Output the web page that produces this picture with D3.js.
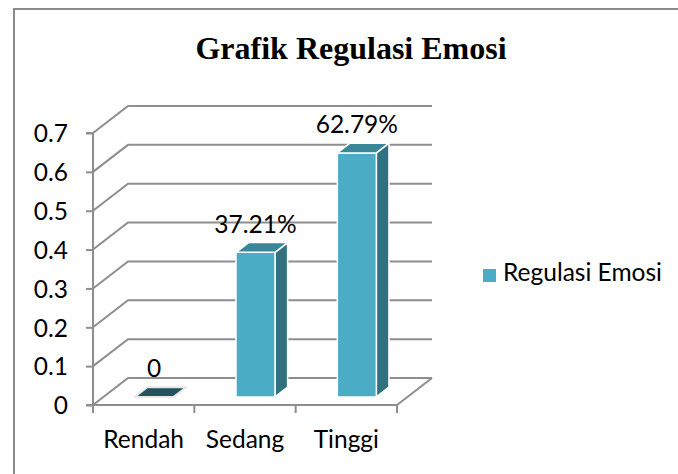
<!DOCTYPE html>
<html>
<head>
<meta charset="utf-8">
<script src="https://cdn.jsdelivr.net/npm/d3@7"></script>
<style>
  html, body { margin: 0; padding: 0; background: #ffffff; }
  svg { display: block; }
</style>
</head>
<body>
<svg id="chart" width="678" height="474"></svg>
<script>
// ---- data ----
const categories = ["Rendah", "Sedang", "Tinggi"];
const values = [0, 0.3721, 0.6279];
const valueLabels = ["0", "37.21%", "62.79%"];
const yTicks = [0, 0.1, 0.2, 0.3, 0.4, 0.5, 0.6, 0.7];
const yTickLabels = ["0", "0.1", "0.2", "0.3", "0.4", "0.5", "0.6", "0.7"];
const chartTitle = "Grafik Regulasi Emosi";
const seriesName = "Regulasi Emosi";

// ---- layout ----
const svg = d3.select("#chart");
const W = 678, H = 474;
const plotLeft = 93, plotRight = 397, plotBottom = 405, plotTop = 133;
const depth = { dx: 35, dy: -27 };
const f0 = 0.3, f1 = 0.66;       // bar depth fraction
const barFrac = 0.385;           // bar width as fraction of band
const gridColor = "#8E8E8E";
const textFont = "Lato, 'Open Sans', sans-serif";
const textSize = 24.5;

const x = d3.scaleBand().domain(categories).range([plotLeft, plotRight]).paddingInner(0).paddingOuter(0);
const y = d3.scaleLinear().domain([0, 0.7]).range([plotBottom, plotTop]);

// outer border (extends past right/bottom edge)
svg.append("rect")
  .attr("x", 14).attr("y", 9).attr("width", W + 20).attr("height", H + 20)
  .attr("fill", "#fff").attr("stroke", "#8A8A8A").attr("stroke-width", 2);

// title
svg.append("text")
  .attr("x", 351).attr("y", 59)
  .attr("text-anchor", "middle")
  .attr("font-family", "'Liberation Serif', 'Times New Roman', serif")
  .attr("font-weight", "bold")
  .attr("font-size", 32)
  .attr("fill", "#000")
  .text(chartTitle);

// ---- back wall gridlines & side wall ----
const grid = svg.append("g").attr("fill", "none").attr("stroke", gridColor).attr("stroke-width", 2);
yTicks.forEach(t => {
  const yy = y(t);
  grid.append("path")
    .attr("d", `M${plotLeft},${yy} L${plotLeft + depth.dx},${yy + depth.dy} L${plotRight + depth.dx},${yy + depth.dy}`);
});
// floor front edge & right diagonal
grid.append("path")
  .attr("d", `M${plotLeft},${plotBottom} L${plotRight},${plotBottom} L${plotRight + depth.dx},${plotBottom + depth.dy}`);

// left axis with ticks
const yAxis = d3.axisLeft(y).tickValues(yTicks).tickSize(7).tickPadding(18)
  .tickFormat((d, i) => yTickLabels[i]);
const gy = svg.append("g").attr("transform", `translate(${plotLeft},0)`).call(yAxis);
gy.select(".domain").attr("stroke", gridColor).attr("stroke-width", 2).attr("d", `M-7,${plotTop}H0V${plotBottom}H-7`);
gy.selectAll(".tick line").attr("stroke", gridColor).attr("stroke-width", 2);
gy.selectAll(".tick text")
  .attr("font-family", textFont).attr("font-size", textSize).attr("fill", "#000")
  .attr("dy", "0.36em");
gy.attr("font-family", null).attr("font-size", null);

// bottom category ticks at band boundaries
const boundaries = categories.map(c => x(c)).concat([plotRight]);
svg.append("g").selectAll("line").data(boundaries).join("line")
  .attr("x1", d => d).attr("x2", d => d)
  .attr("y1", plotBottom).attr("y2", plotBottom + 8)
  .attr("stroke", gridColor).attr("stroke-width", 2);

// category labels
const xAxis = d3.axisBottom(x).tickSize(0).tickPadding(0);
const gx = svg.append("g").attr("transform", `translate(0,${plotBottom})`).call(xAxis);
gx.select(".domain").remove();
gx.selectAll(".tick text")
  .attr("font-family", textFont).attr("font-size", textSize).attr("fill", "#000")
  .attr("y", 43).attr("dy", 0);
gx.attr("font-family", null).attr("font-size", null);

// ---- 3D bars ----
const frontColor = "#4BACC6", sideColor = "#31707F", topColor = "#3A8799", flatColor = "#23515E";
const bars = svg.append("g");
categories.forEach((c, i) => {
  const bw = x.bandwidth() * barFrac;
  const cx = x(c) + x.bandwidth() / 2 + depth.dx * f0;
  const x0 = cx - bw / 2, x1 = cx + bw / 2;
  const yb = plotBottom + depth.dy * f0;
  const yt = y(values[i]) + depth.dy * f0;
  const ddx = depth.dx * (f1 - f0), ddy = depth.dy * (f1 - f0);
  const g = bars.append("g").attr("stroke", "#ffffff").attr("stroke-width", 1.5).attr("stroke-linejoin", "round");
  if (values[i] > 0) {
    g.append("path").attr("fill", sideColor)
      .attr("d", `M${x1},${yb} L${x1 + ddx},${yb + ddy} L${x1 + ddx},${yt + ddy} L${x1},${yt} Z`);
    g.append("path").attr("fill", frontColor)
      .attr("d", `M${x0},${yb} L${x1},${yb} L${x1},${yt} L${x0},${yt} Z`);
    g.append("path").attr("fill", topColor)
      .attr("d", `M${x0},${yt} L${x1},${yt} L${x1 + ddx},${yt + ddy} L${x0 + ddx},${yt + ddy} Z`);
  } else {
    g.append("path").attr("fill", flatColor).attr("stroke", "#e8e8e8").attr("stroke-width", 2)
      .attr("d", `M${x0},${yt} L${x1},${yt} L${x1 + ddx},${yt + ddy} L${x0 + ddx},${yt + ddy} Z`);
  }
  svg.append("text")
    .attr("x", cx).attr("y", yt + ddy - 10)
    .attr("text-anchor", "middle")
    .attr("font-family", textFont).attr("font-size", textSize).attr("fill", "#000")
    .text(valueLabels[i]);
});

// ---- legend ----
const lg = svg.append("g").attr("transform", "translate(483,269)");
lg.append("rect").attr("width", 13).attr("height", 13).attr("fill", frontColor);
lg.append("text").attr("x", 20).attr("y", 12)
  .attr("font-family", textFont).attr("font-size", textSize).attr("fill", "#000")
  .text(seriesName);
</script>
</body>
</html>
